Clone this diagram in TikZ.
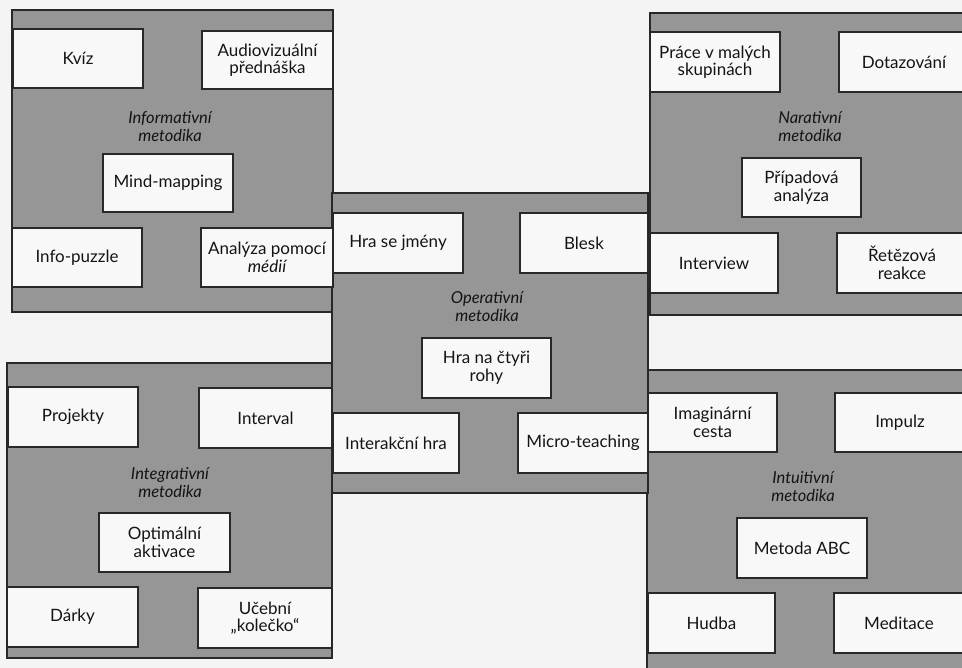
\documentclass[tikz,border=0pt]{standalone}
\usepackage{fontspec}
\setmainfont{Lato}
\definecolor{panelgray}{RGB}{150,150,150}
\definecolor{paper}{RGB}{244,244,244}
\definecolor{boxfill}{RGB}{248,248,248}
\definecolor{edge}{RGB}{40,40,40}
\definecolor{ink}{RGB}{20,20,20}
\newcommand{\bx}[6]{%
  \node[box, minimum width={(#4-#2)*1pt}, minimum height={(#5-#3)*1pt}]
    (#1) at ({(#2+#4)/2},{(#3+#5)/2}) {#6};}
\begin{document}
\begin{tikzpicture}[x=1pt,y=-1pt,
  panel/.style={draw=edge, line width=1.4pt, fill=panelgray},
  box/.style={draw=edge, line width=1.2pt, fill=boxfill, inner sep=2pt,
    align=center, text=ink, font=\fontsize{17}{17.5}\selectfont},
  lab/.style={align=center, text=ink, font=\fontsize{16.5}{18}\selectfont\itshape}]
\useasboundingbox (0,0) rectangle (962,668);
\fill[paper] (0,0) rectangle (962,668);
\clip (0,0) rectangle (962,668);

% panels
\draw[panel] (12,10) rectangle (333,312);
\draw[panel] (650,13) rectangle (975,315);
\draw[panel] (7,363) rectangle (332,658);
\draw[panel] (647,370) rectangle (975,690);
\draw[panel] (332,193) rectangle (648,493);

% Informativni
\bx{kviz}{13}{29}{143}{88}{Kvíz}
\bx{audio}{202}{31}{333}{89}{Audiovizuální\\přednáška}
\bx{mind}{103}{154}{233}{212}{Mind-mapping}
\bx{info}{12}{228}{142}{287}{Info-puzzle}
\bx{analyza}{201}{228}{333}{287}{Analýza pomocí\\{\itshape médií}}
\node[lab] (l1) at (170,127) {Informativní\\metodika};

% Operativni
\bx{jmeny}{333}{213}{463}{273}{Hra se jmény}
\bx{blesk}{520}{213}{648}{273}{Blesk}
\bx{rohy}{422}{338}{551}{398}{Hra na čtyři\\rohy}
\bx{interakcni}{333}{413}{459}{473}{Interakční hra}
\bx{micro}{518}{413}{648}{473}{Micro-teaching}
\node[lab] (l2) at (487,307) {Operativní\\metodika};

% Narativni
\bx{prace}{650}{32}{780}{92}{Práce v malých\\skupinách}
\bx{dotaz}{839}{32}{969}{92}{Dotazování}
\bx{pripad}{742}{158}{861}{217}{Případová\\analýza}
\bx{interview}{650}{233}{778}{293}{Interview}
\bx{retez}{837}{233}{967}{293}{Řetězová\\reakce}
\node[lab] (l3) at (810,127) {Narativní\\metodika};

% Integrativni
\bx{projekty}{8}{387}{138}{447}{Projekty}
\bx{interval}{199}{388}{332}{448}{Interval}
\bx{optim}{99}{513}{230}{572}{Optimální\\aktivace}
\bx{darky}{7}{587}{138}{647}{Dárky}
\bx{ucebni}{198}{588}{332}{648}{Učební\\„kolečko“}
\node[lab] (l4) at (170,483) {Integrativní\\metodika};

% Intuitivni
\bx{imag}{648}{393}{777}{452}{Imaginární\\cesta}
\bx{impulz}{835}{393}{965}{452}{Impulz}
\bx{abc}{737}{518}{867}{578}{Metoda ABC}
\bx{hudba}{648}{593}{775}{653}{Hudba}
\bx{medit}{834}{593}{964}{653}{Meditace}
\node[lab] (l5) at (803,487) {Intuitivní\\metodika};
\end{tikzpicture}
\end{document}
